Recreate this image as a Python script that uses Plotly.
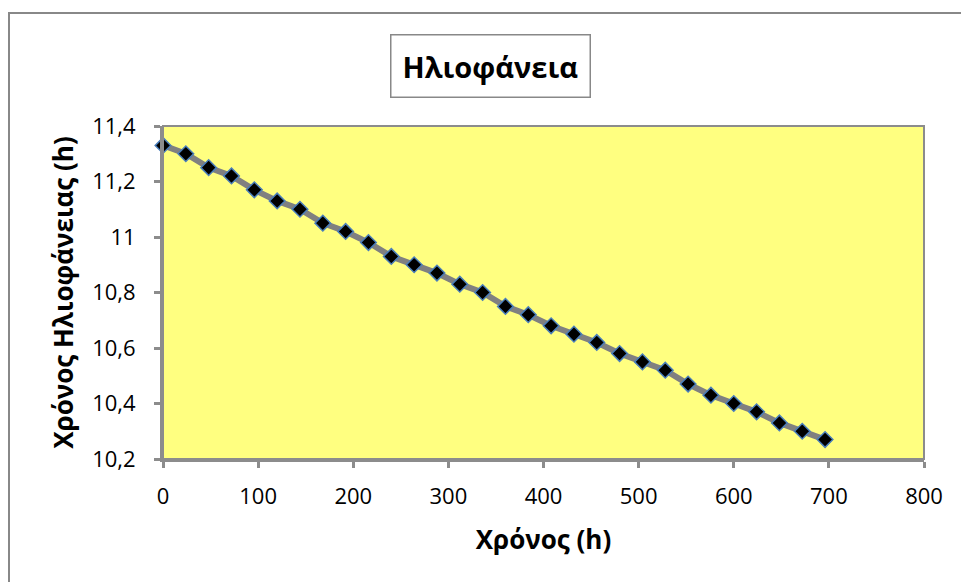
import plotly.graph_objects as go

hours = [0, 24, 48, 72, 96, 120, 144, 168, 192, 216, 240, 264, 288, 312, 336,
         360, 384, 408, 432, 456, 480, 504, 528, 552, 576, 600, 624, 648, 672, 696]
sunshine = [11.33, 11.30, 11.25, 11.22, 11.17, 11.13, 11.10, 11.05, 11.02, 10.98,
            10.93, 10.90, 10.87, 10.83, 10.80, 10.75, 10.72, 10.68, 10.65, 10.62,
            10.58, 10.55, 10.52, 10.47, 10.43, 10.40, 10.37, 10.33, 10.30, 10.27]

title_text = "Ηλιοφάνεια"
x_title = "Χρόνος (h)"
y_title = "Χρόνος Ηλιοφάνειας (h)"
x_ticks = [0, 100, 200, 300, 400, 500, 600, 700, 800]
y_ticks = [10.2, 10.4, 10.6, 10.8, 11.0, 11.2, 11.4]

FONT = "Open Sans"

fig = go.Figure()
fig.add_trace(go.Scatter(
    x=hours, y=sunshine, mode="lines+markers",
    line=dict(color="#808080", width=6),
    marker=dict(symbol="diamond", size=12, color="black",
                line=dict(color="#4a7ebb", width=1.5)),
    cliponaxis=False, showlegend=False,
))

axis_common = dict(
    showline=True, linecolor="#8c8c8c", linewidth=3, mirror=False,
    ticks="outside", ticklen=6, tickwidth=3, tickcolor="#8c8c8c",
    showgrid=False, zeroline=False,
    tickfont=dict(family=FONT, size=22, color="black"),
)

fig.update_layout(
    width=961, height=582,
    margin=dict(l=163, r=37, t=126, b=123),
    paper_bgcolor="white", plot_bgcolor="#ffff80",
    separators=", ",
    font=dict(family=FONT, color="black"),
    xaxis=dict(range=[0, 800], tickvals=x_ticks, ticklabelstandoff=10,
               title=dict(text=x_title, font=dict(family=FONT, size=26, weight="bold"), standoff=22),
               **axis_common),
    yaxis=dict(range=[10.2, 11.4], tickvals=y_ticks, ticklabelstandoff=14,
               title=dict(text=y_title, font=dict(family=FONT, size=26, weight="bold"), standoff=12),
               **axis_common),
)

# plot area border (right/top)
fig.add_shape(type="rect", xref="paper", yref="paper", x0=0, y0=0, x1=1, y1=1,
              line=dict(color="#8c8c8c", width=2), layer="above")

# outer chart border (extends past the window edges)
fig.add_shape(type="rect", xref="paper", yref="paper",
              x0=(9 - 163) / 761, x1=(975 - 163) / 761,
              y0=(459 - 600) / 333, y1=(459 - 13) / 333,
              line=dict(color="#888888", width=2))

fig.add_annotation(
    text="<b>" + title_text + "</b>", xref="paper", yref="paper",
    x=(490 - 163) / 761, y=(459 - 66) / 333, xanchor="center", yanchor="middle",
    showarrow=False, font=dict(family=FONT, size=29, color="black"),
    bordercolor="#888888", borderwidth=1.5, borderpad=11, bgcolor="white",
)

fig.write_html("out.html")
